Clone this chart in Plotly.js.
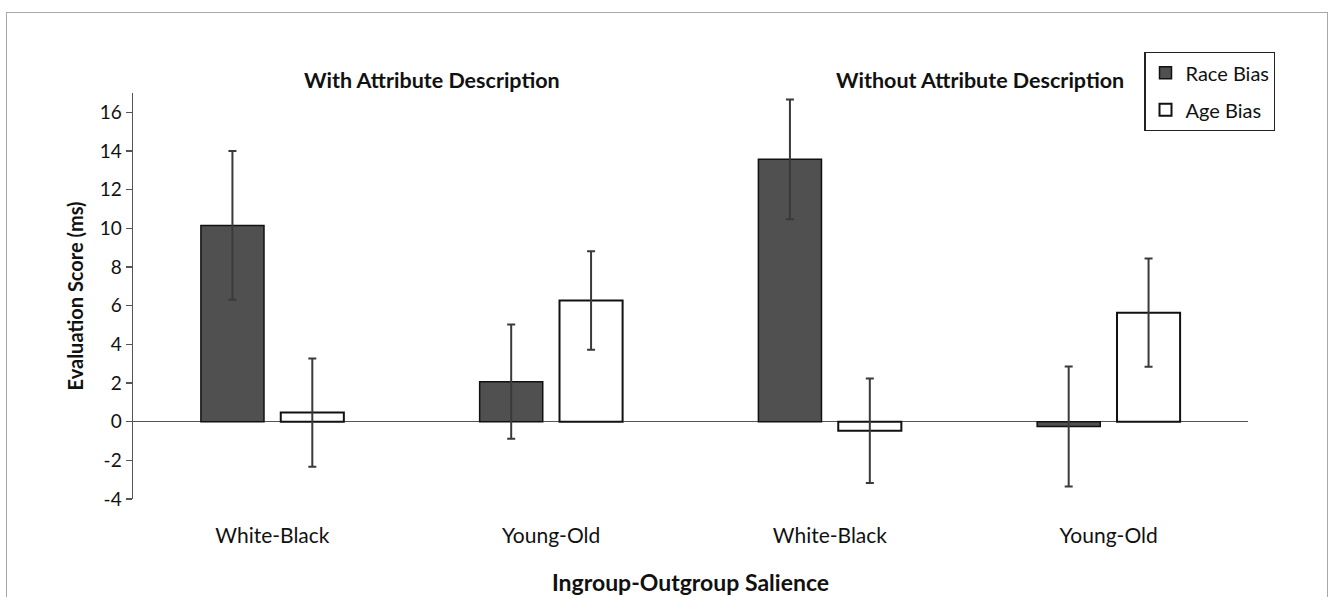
<!DOCTYPE html>
<html>
<head>
<meta charset="utf-8">
<script src="https://cdn.plot.ly/plotly-3.0.1.min.js"></script>
<style>
html,body{margin:0;padding:0;background:#fff;overflow:hidden;}
#frame{position:absolute;left:6px;top:12px;width:1320px;height:640px;border:1.5px solid #a8a8a8;}
#chart{position:absolute;left:0;top:0;width:1331px;height:597px;}
</style>
</head>
<body>
<div id="frame"></div>
<div id="chart"></div>
<script>
const positions = [0, 1, 2, 3];
const tickLabels = ["White-Black", "Young-Old", "White-Black", "Young-Old"];
const panelTitles = ["With Attribute Description", "Without Attribute Description"];
const yTickVals = [-4, -2, 0, 2, 4, 6, 8, 10, 12, 14, 16];
const yTickText = ["-4", "-2", "0", "2", "4", "6", "8", "10", "12", "14", "16"];
const raceBias = [10.15, 2.07, 13.57, -0.25];
const raceErr = [3.85, 2.95, 3.1, 3.1];
const ageBias = [0.47, 6.27, -0.47, 5.64];
const ageErr = [2.8, 2.55, 2.7, 2.8];

const FONT = "Lato, 'Open Sans', sans-serif";

const traces = [
  {
    type: "bar", name: "Race Bias", legendgroup: "race", x: positions, y: raceBias,
    marker: {color: "#505050", line: {color: "#111", width: 1.5}},
    error_y: {type: "data", array: raceErr, visible: true, color: "#3a3a3a", thickness: 2, width: 4}
  },
  {
    type: "bar", name: "Age Bias", legendgroup: "age", x: positions, y: ageBias,
    marker: {color: "#ffffff", line: {color: "#111", width: 2}},
    error_y: {type: "data", array: ageErr, visible: true, color: "#3a3a3a", thickness: 2, width: 4}
  }
];

const layout = {
  width: 1331, height: 597,
  margin: {l: 133, r: 83, t: 93, b: 98},
  paper_bgcolor: "rgba(0,0,0,0)", plot_bgcolor: "rgba(0,0,0,0)",
  font: {family: FONT, size: 19, color: "#111"},
  barmode: "group", bargap: 0.427, bargroupgap: 0.21,
  showlegend: true,
  legend: {
    x: 0.907, y: 1.101, xanchor: "left", yanchor: "top",
    bordercolor: "#222", borderwidth: 1.2, bgcolor: "#fff",
    font: {family: FONT, size: 20, color: "#111"},
    tracegroupgap: 8, itemwidth: 30
  },
  xaxis: {
    range: [-0.5, 3.5], tickvals: positions, ticktext: tickLabels,
    showline: false, showgrid: false, zeroline: false,
    ticks: "outside", ticklen: 18, tickcolor: "rgba(0,0,0,0)",
    tickfont: {family: FONT, size: 21, color: "#111"},
    title: {text: "<b>Ingroup-Outgroup Salience</b>", font: {family: FONT, size: 23, color: "#111"}, standoff: 28}
  },
  yaxis: {
    range: [-4, 17], tickvals: yTickVals, ticktext: yTickText,
    showline: true, linecolor: "#555", linewidth: 1.5,
    showgrid: false, zeroline: true, zerolinecolor: "#555", zerolinewidth: 1.2,
    ticks: "outside", ticklen: 6, tickcolor: "#555", tickwidth: 1.2,
    tickfont: {family: FONT, size: 19, color: "#111"},
    title: {text: "<b>Evaluation Score (ms)</b>", font: {family: FONT, size: 20, color: "#111"}, standoff: 10}
  },
  annotations: [
    {text: "<b>" + panelTitles[0] + "</b>", xref: "paper", yref: "paper", x: 0.268, y: 1.032,
     xanchor: "center", yanchor: "middle",
     showarrow: false, font: {family: FONT, size: 21.5, color: "#111"}},
    {text: "<b>" + panelTitles[1] + "</b>", xref: "paper", yref: "paper", x: 0.76, y: 1.032,
     xanchor: "center", yanchor: "middle",
     showarrow: false, font: {family: FONT, size: 21.5, color: "#111"}}
  ]
};

Plotly.newPlot("chart", traces, layout, {displayModeBar: false, staticPlot: true});
</script>
</body>
</html>
